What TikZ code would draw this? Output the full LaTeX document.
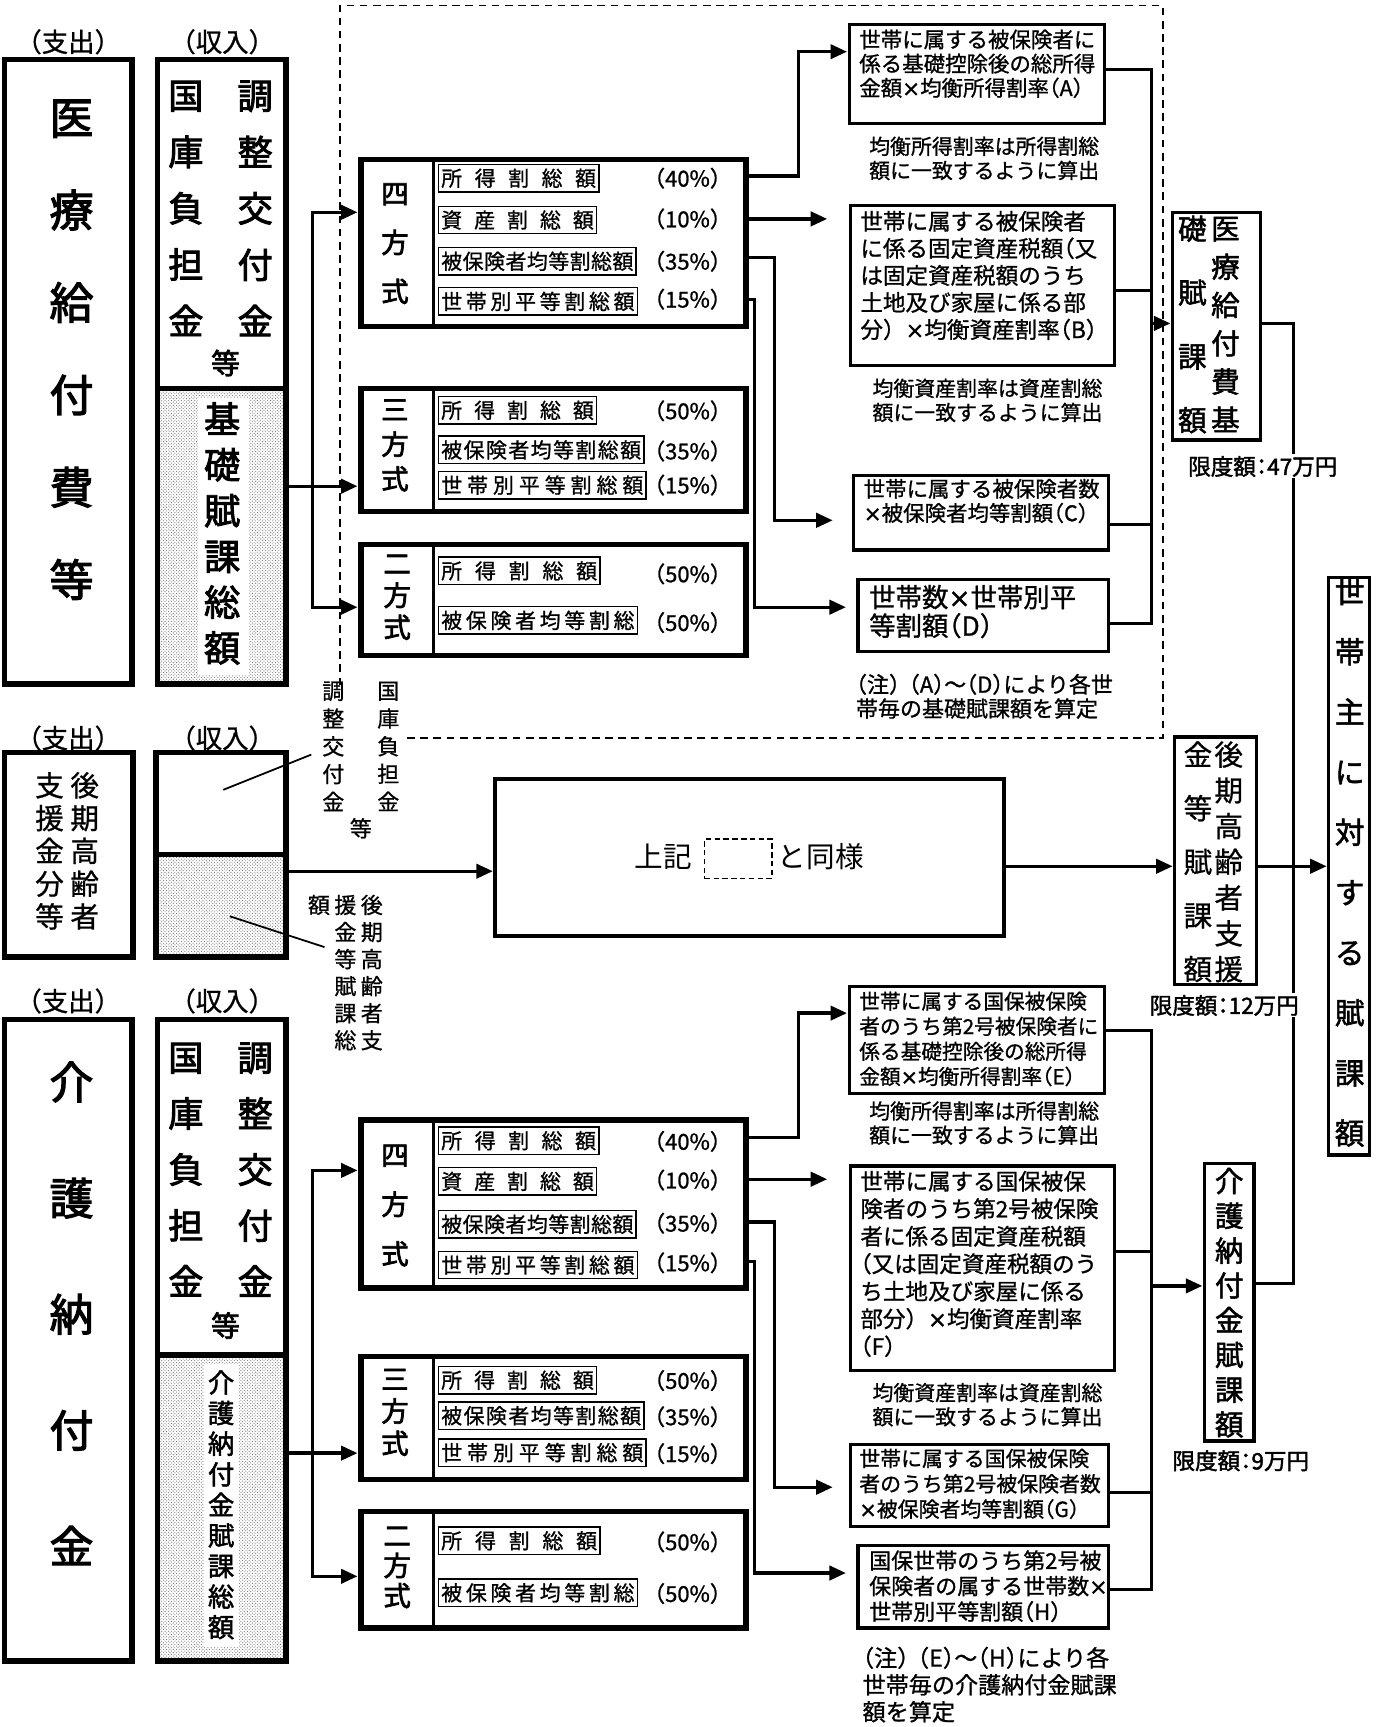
\documentclass[tikz,border=0pt]{standalone}
\usepackage{fontspec}
\setmainfont{Noto Sans CJK JP}[RawFeature=+halt,FakeBold=1]
\newfontfamily\plainjp{Noto Sans CJK JP}[FakeBold=0.8]
\newfontfamily\thinjp{Noto Sans CJK JP}
\newfontfamily\bjp{Noto Sans CJK JP}[FakeBold=2.5]
\newfontfamily\mjp{Noto Sans CJK JP}[FakeBold=1.8,RawFeature=+halt]
\newfontfamily\latf{DejaVu Sans}[FakeBold=1]
\newcommand\tms{{\latf ×}}
\newcommand\fwcp{{\plainjp ）}}
\usetikzlibrary{arrows.meta,patterns}
\newcommand\setfs[2]{\fontsize{#1pt}{#2pt}\selectfont}
\newcommand\bx[6]{\node[#1, minimum width={#5-#3}, minimum height={#6-#4}] (#2) at (#3,#4) {};}
\newcommand\itm[4]{\node[itembox] (#1) at (398,#2) {\hbox to #3pt{#4}};}
\newcommand\pc[3]{\node[pct] (#1) at (625,#2) {#3};}
\tikzset{
 heavybox/.style={draw, line width=5pt, inner sep=0pt, outer sep=0pt, anchor=north west},
 midbox/.style={draw, line width=3pt, inner sep=0pt, outer sep=0pt, anchor=north west},
 whitebox/.style={fill=white, inner sep=0pt, outer sep=0pt, anchor=north west},
 itembox/.style={draw, line width=1.3pt, inner sep=2.5pt, minimum height=25pt, anchor=west, font=\setfs{19}{19}},
 divl/.style={line width=3pt},
 conn/.style={line width=3pt},
 arr/.style={line width=3pt, -{Triangle[length=15pt,width=13pt]}},
 leader/.style={line width=1.6pt},
 pct/.style={font=\setfs{20}{20}, inner sep=0pt},
 vcol/.style={align=center, inner sep=0pt},
 txt/.style={align=left, inner sep=0pt, anchor=west},
 hdr/.style={font=\plainjp\setfs{24}{24}, inner sep=0pt},
 dotfill/.style={pattern=crosshatch dots, pattern color=black!60},
 limit/.style={font=\mjp\setfs{20.5}{20.5}, fill=white, inner sep=1.5pt},
}
\begin{document}
\begin{tikzpicture}[x=1pt,y=-1pt]
\useasboundingbox (0,0) rectangle (1258,1570);

%================ TOP =================
\node[hdr] (tSpend) at (62,38) {（支出）};
\node[hdr] (tIncome) at (202,38) {（収入）};
\bx{heavybox}{tL}{4}{54}{120}{622}
\node[vcol,font=\bjp\setfs{40}{84}] (tLt) at (65,318) {医\\療\\給\\付\\費\\等};
\bx{heavybox,dotfill}{tIlo}{143}{353}{260}{622}
\bx{heavybox}{tIup}{143}{54}{260}{353}
\bx{whitebox}{tIst}{180}{362}{226}{614}
\node[vcol,font=\bjp\setfs{32}{51.25}] (tIc1) at (169,189.5) {国\\庫\\負\\担\\金};
\node[vcol,font=\bjp\setfs{32}{51.25}] (tIc2) at (232,189.5) {調\\整\\交\\付\\金};
\node[vcol,font=\bjp\setfs{26}{26}] (tIe) at (205,330) {等};
\node[vcol,font=\bjp\setfs{33}{41.6}] (tIk) at (202,485) {基\\礎\\賦\\課\\総\\額};

% dashed frame
\draw[line width=1.6pt, dash pattern=on 7pt off 5pt] (370,671) -- (1057,671) -- (1057,5) -- (309,5) -- (309,625);

% four-way
\bx{heavybox}{tM4}{328}{145}{678}{297}
\draw[divl] ([xshift=66pt]tM4.north west) -- ([xshift=66pt]tM4.south west);
\node[vcol,font=\bjp\setfs{25}{44.5}] (tM4l) at (359,221.5) {四\\方\\式};
\itm{tM4a}{162}{140.7}{所\hfil 得\hfil 割\hfil 総\hfil 額}
\itm{tM4b}{200}{138.7}{資\hfil 産\hfil 割\hfil 総\hfil 額}
\itm{tM4c}{237.5}{174.7}{被\hfil 保\hfil 険\hfil 者\hfil 均\hfil 等\hfil 割\hfil 総\hfil 額}
\itm{tM4d}{274}{175.7}{世\hfil 帯\hfil 別\hfil 平\hfil 等\hfil 割\hfil 総\hfil 額}
\pc{tM4ap}{162}{（40\%）}
\pc{tM4bp}{199}{（10\%）}
\pc{tM4cp}{237.5}{（35\%）}
\pc{tM4dp}{272}{（15\%）}
% three-way
\bx{heavybox}{tM3}{328}{353}{678}{465}
\draw[divl] ([xshift=66pt]tM3.north west) -- ([xshift=66pt]tM3.south west);
\node[vcol,font=\bjp\setfs{25}{31.5}] (tM3l) at (359,405) {三\\方\\式};
\itm{tM3a}{373}{138.7}{所\hfil 得\hfil 割\hfil 総\hfil 額}
\itm{tM3b}{409}{181.7}{被\hfil 保\hfil 険\hfil 者\hfil 均\hfil 等\hfil 割\hfil 総\hfil 額}
\itm{tM3c}{441}{183.7}{世\hfil 帯\hfil 別\hfil 平\hfil 等\hfil 割\hfil 総\hfil 額}
\pc{tM3ap}{373.5}{（50\%）}
\pc{tM3bp}{410}{（35\%）}
\pc{tM3cp}{441}{（15\%）}
% two-way
\bx{heavybox}{tM2}{328}{495}{678}{596}
\draw[divl] ([xshift=66pt]tM2.north west) -- ([xshift=66pt]tM2.south west);
\node[vcol,font=\bjp\setfs{25}{29}] (tM2l) at (361,543) {二\\方\\式};
\itm{tM2a}{519}{141.7}{所\hfil 得\hfil 割\hfil 総\hfil 額}
\itm{tM2b}{564}{175.7}{被\hfil 保\hfil 険\hfil 者\hfil 均\hfil 等\hfil 割\hfil 総}
\pc{tM2ap}{521.7}{（50\%）}
\pc{tM2bp}{566}{（50\%）}

% income -> methods
\coordinate (tIo) at (260,442);
\coordinate (tJ) at (284,442);
\coordinate (tM4i) at (325,193);
\coordinate (tM3i) at (325,442);
\coordinate (tM2i) at (325,552);
\draw[arr] (tIo) -- (tM3i);
\draw[arr] (tJ) |- (tM4i);
\draw[arr] (tJ) |- (tM2i);

% method -> formula boxes
\coordinate (t40o) at (678,160);
\coordinate (t10o) at (678,199);
\coordinate (t35o) at (678,234);
\coordinate (t15o) at (678,272);
\coordinate (tAi) at (770,47);
\coordinate (tBi) at (752,199);
\coordinate (tCi) at (757,473);
\coordinate (tDi) at (769,552);
\draw[arr] (t40o) -| (726,47) -- (tAi);
\draw[arr] (t10o) -- (tBi);
\draw[arr] (t35o) -| (704,473) -- (tCi);
\draw[arr] (t15o) -| (686,552) -- (tDi);

% formula boxes top
\bx{midbox}{tA}{772}{22}{1004}{112}
\node[txt,font=\setfs{19.5}{22}] (tAt) at (781,58) {世帯に属する被保険者に\\係る基礎控除後の総所得\\金額\tms 均衡所得割率（A）};
\node[txt,font=\setfs{19}{22}] (tAn) at (790,144) {均衡所得割率は所得割総\\額に一致するように算出};
\bx{midbox}{tB}{773}{187}{1013}{332}
\node[txt,font=\setfs{20.5}{24.6}] (tBt) at (782,250.5) {世帯に属する被保険者\\に係る固定資産税額（又\\は固定資産税額のうち\\土地及び家屋に係る部\\分\fwcp\tms 均衡資産割率（B）};
\node[txt,font=\setfs{19}{22}] (tBn) at (793,364) {均衡資産割率は資産割総\\額に一致するように算出};
\bx{midbox}{tC}{776}{432}{1008}{500}
\node[txt,font=\setfs{19.5}{22}] (tCt) at (785,455.5) {世帯に属する被保険者数\\\tms 被保険者均等割額（C）};
\bx{midbox}{tD}{780}{527}{1008}{592}
\node[txt,font=\setfs{24}{26}] (tDt) at (790,556) {世帯数\tms 世帯別平\\等割額（D）};
\node[txt,font=\setfs{20}{22}] (tNote) at (778,633) {（注）\hspace{8pt}（A）～（D）により各世\\帯毎の基礎賦課額を算定};

% collector top
\coordinate (tAo) at (1004,63);
\coordinate (tBo) at (1013,264);
\coordinate (tCo) at (1008,477);
\coordinate (tDo) at (1008,567);
\coordinate (tKi) at (1064,294);
\coordinate (tKo) at (1146,294);
\draw[conn] (tAo) -- (1047,63) -- (1047,567) -- (tDo);
\draw[conn] (tBo) -- (1047,264);
\draw[conn] (tCo) -- (1047,477);
\draw[arr] (1047,294) -- (tKi);

\bx{midbox}{tK}{1066}{193}{1146}{400}
\node[vcol,font=\mjp\setfs{26}{34.8}] (tKr) at (1114,295) {医\\療\\給\\付\\費\\基};
\node[vcol,font=\mjp\setfs{26}{58}] (tKl) at (1084,295) {礎\\賦\\課\\額};

% household total box
\bx{midbox}{S}{1208}{525}{1245}{1050}
\node[vcol,font=\mjp\setfs{27}{54.7}] (St) at (1227,784) {世\\帯\\主\\に\\対\\す\\る\\賦\\課\\額};

% trunk
\coordinate (bKo) at (1140,1167);
\draw[conn] (tKo) -- (1176,294) -- (1176,1167) -- (bKo);

%================ MIDDLE =================
\node[hdr] (mSpend) at (62,671) {（支出）};
\node[hdr] (mIncome) at (202,671) {（収入）};
\bx{heavybox}{mL}{4}{684}{121}{870}
\node[vcol,font=\plainjp\setfs{26}{29.8}] (mLr) at (77,773.5) {後\\期\\高\\齢\\者};
\node[vcol,font=\plainjp\setfs{26}{29.8}] (mLl) at (45,773.5) {支\\援\\金\\分\\等};
\bx{heavybox,dotfill}{mIlo}{142}{777}{260}{870}
\bx{heavybox}{mIup}{142}{684}{260}{777}

\node[vcol,font=\plainjp\setfs{20}{25.2}] (mA1) at (303,678.5) {調\\整\\交\\付\\金};
\node[vcol,font=\plainjp\setfs{20}{25.2}] (mA2) at (353,678.5) {国\\庫\\負\\担\\金};
\node[vcol,font=\plainjp\setfs{20}{20}] (mA3) at (328,753) {等};
\node[vcol,font=\plainjp\setfs{20}{24.6}] (mB1) at (338,884.2) {後\\期\\高\\齢\\者\\支};
\node[vcol,font=\plainjp\setfs{20}{24.6}] (mB2) at (314,884.2) {援\\金\\等\\賦\\課\\総};
\node[vcol,font=\plainjp\setfs{20}{20}] (mB3) at (290,822.7) {額};
\coordinate (mL1a) at (203,718);
\coordinate (mL1b) at (283,686);
\coordinate (mL2a) at (209,833);
\coordinate (mL2b) at (295,861);
\draw[leader] (mL1a) -- (mL1b);
\draw[leader] (mL2a) -- (mL2b);

\bx{midbox,line width=3.5pt}{mBig}{450}{708}{913}{851}
\node[font=\thinjp\setfs{26}{26},anchor=east,inner sep=0pt] (mT1) at (629,779) {上記};
\bx{draw,line width=1.3pt,dash pattern=on 5pt off 3pt,inner sep=0pt,anchor=north west}{mRef}{640}{762}{701}{798}
\node[font=\thinjp\setfs{26}{26},anchor=west,inner sep=0pt] (mT2) at (707,779) {と同様};

\bx{midbox}{mK}{1068}{670}{1142}{895}
\node[vcol,font=\plainjp\setfs{26}{32.5}] (mKr) at (1117,783.5) {後\\期\\高\\齢\\者\\支\\援};
\node[vcol,font=\plainjp\setfs{26}{48.75}] (mKl) at (1089,783.5) {金\\等\\賦\\課\\額};

\coordinate (mIo) at (260,792);
\coordinate (mBigi) at (448,792);
\coordinate (mBigo) at (913,787.5);
\coordinate (mKi) at (1066,787.5);
\coordinate (mKo) at (1142,787.5);
\coordinate (Si) at (1206,787.5);
\draw[arr] (mIo) -- (mBigi);
\draw[arr] (mBigo) -- (mKi);
\draw[arr] (mKo) -- (Si);

%================ BOTTOM =================
\node[hdr] (bSpend) at (62,910) {（支出）};
\node[hdr] (bIncome) at (202,910) {（収入）};
\bx{heavybox}{bL}{4}{927}{120}{1510}
\node[vcol,font=\bjp\setfs{40}{105.5}] (bLt) at (65,1194) {介\\護\\納\\付\\金};
\bx{heavybox,dotfill}{bIlo}{143}{1232}{260}{1510}
\bx{heavybox}{bIup}{143}{927}{260}{1232}
\bx{whitebox}{bIst}{185}{1240}{217}{1497}
\node[vcol,font=\bjp\setfs{32}{50.9}] (bIc1) at (169,1063.3) {国\\庫\\負\\担\\金};
\node[vcol,font=\bjp\setfs{32}{50.9}] (bIc2) at (232,1063.3) {調\\整\\交\\付\\金};
\node[vcol,font=\bjp\setfs{26}{26}] (bIe) at (205,1205) {等};
\node[vcol,font=\mjp\setfs{24}{27.8}] (bIk) at (201,1368) {介\\護\\納\\付\\金\\賦\\課\\総\\額};

% four-way
\bx{heavybox}{bM4}{328}{1018}{678}{1171}
\draw[divl] ([xshift=66pt]bM4.north west) -- ([xshift=66pt]bM4.south west);
\node[vcol,font=\bjp\setfs{25}{45}] (bM4l) at (359,1096) {四\\方\\式};
\itm{bM4a}{1037}{140.7}{所\hfil 得\hfil 割\hfil 総\hfil 額}
\itm{bM4b}{1074}{138.7}{資\hfil 産\hfil 割\hfil 総\hfil 額}
\itm{bM4c}{1113}{174.7}{被\hfil 保\hfil 険\hfil 者\hfil 均\hfil 等\hfil 割\hfil 総\hfil 額}
\itm{bM4d}{1150}{175.7}{世\hfil 帯\hfil 別\hfil 平\hfil 等\hfil 割\hfil 総\hfil 額}
\pc{bM4ap}{1037.6}{（40\%）}
\pc{bM4bp}{1072.8}{（10\%）}
\pc{bM4cp}{1112}{（35\%）}
\pc{bM4dp}{1148}{（15\%）}
% three-way
\bx{heavybox}{bM3}{328}{1233}{678}{1345}
\draw[divl] ([xshift=66pt]bM3.north west) -- ([xshift=66pt]bM3.south west);
\node[vcol,font=\bjp\setfs{25}{29.3}] (bM3l) at (359,1284) {三\\方\\式};
\itm{bM3a}{1254.7}{138.7}{所\hfil 得\hfil 割\hfil 総\hfil 額}
\itm{bM3b}{1287}{181.7}{被\hfil 保\hfil 険\hfil 者\hfil 均\hfil 等\hfil 割\hfil 総\hfil 額}
\itm{bM3c}{1320.5}{183.7}{世\hfil 帯\hfil 別\hfil 平\hfil 等\hfil 割\hfil 総\hfil 額}
\pc{bM3ap}{1255}{（50\%）}
\pc{bM3bp}{1288}{（35\%）}
\pc{bM3cp}{1321.5}{（15\%）}
% two-way
\bx{heavybox}{bM2}{328}{1374}{678}{1480}
\draw[divl] ([xshift=66pt]bM2.north west) -- ([xshift=66pt]bM2.south west);
\node[vcol,font=\bjp\setfs{25}{27.3}] (bM2l) at (361,1425) {二\\方\\式};
\itm{bM2a}{1400.7}{141.7}{所\hfil 得\hfil 割\hfil 総\hfil 額}
\itm{bM2b}{1448}{175.7}{被\hfil 保\hfil 険\hfil 者\hfil 均\hfil 等\hfil 割\hfil 総}
\pc{bM2ap}{1401.7}{（50\%）}
\pc{bM2bp}{1448.7}{（50\%）}

% income -> methods
\coordinate (bIo) at (260,1321);
\coordinate (bJ) at (284,1321);
\coordinate (bM4i) at (325,1064);
\coordinate (bM3i) at (325,1321);
\coordinate (bM2i) at (325,1433);
\draw[arr] (bIo) -- (bM3i);
\draw[arr] (bJ) |- (bM4i);
\draw[arr] (bJ) |- (bM2i);

% method -> formula boxes
\coordinate (b40o) at (678,1034);
\coordinate (b10o) at (678,1072);
\coordinate (b35o) at (678,1111);
\coordinate (b15o) at (678,1147);
\coordinate (bEi) at (770,921);
\coordinate (bFi) at (752,1072);
\coordinate (bGi) at (757,1352);
\coordinate (bHi) at (769,1430);
\draw[arr] (b40o) -| (726,921) -- (bEi);
\draw[arr] (b10o) -- (bFi);
\draw[arr] (b35o) -| (704,1352) -- (bGi);
\draw[arr] (b15o) -| (686,1430) -- (bHi);

% formula boxes bottom
\bx{midbox}{bE}{772}{897}{1004}{994}
\node[txt,font=\setfs{18.8}{22.8}] (bEt) at (781,944.5) {世帯に属する国保被保険\\者のうち第2号被保険者に\\係る基礎控除後の総所得\\金額\tms 均衡所得割率（E）};
\node[txt,font=\setfs{19}{22}] (bEn) at (790,1021) {均衡所得割率は所得割総\\額に一致するように算出};
\bx{midbox}{bF}{773}{1060}{1013}{1246}
\node[txt,font=\setfs{20.5}{25}] (bFt) at (782,1149) {世帯に属する国保被保\\険者のうち第2号被保険\\者に係る固定資産税額\\（又は固定資産税額のう\\ち土地及び家屋に係る\\部分\fwcp\tms 均衡資産割率\\（F）};
\node[txt,font=\setfs{19}{22}] (bFn) at (793,1277) {均衡資産割率は資産割総\\額に一致するように算出};
\bx{midbox}{bG}{773}{1313}{1008}{1388}
\node[txt,font=\setfs{19}{23}] (bGt) at (781,1349) {世帯に属する国保被保険\\者のうち第2号被保険者数\\\tms 被保険者均等割額（G）};
\bx{midbox}{bH}{780}{1405}{1008}{1480}
\node[txt,font=\setfs{20}{23.2}] (bHt) at (790,1442) {国保世帯のうち第2号被\\保険者の属する世帯数\tms\\世帯別平等割額（H）};
\node[txt,font=\setfs{21}{24.5}] (bNote) at (784,1531.5) {（注）\hspace{8pt}（E）～（H）により各\\世帯毎の介護納付金賦課\\額を算定};

% collector bottom
\coordinate (bEo) at (1004,937);
\coordinate (bFo) at (1013,1138);
\coordinate (bGo) at (1008,1357);
\coordinate (bHo) at (1008,1445);
\coordinate (bKi) at (1093,1169);
\draw[conn] (bEo) -- (1047,937) -- (1047,1445) -- (bHo);
\draw[conn] (bFo) -- (1047,1138);
\draw[conn] (bGo) -- (1047,1357);
\draw[arr] (1047,1169) -- (bKi);

\bx{midbox}{bK}{1095}{1058}{1140}{1310}
\node[vcol,font=\mjp\setfs{26}{31.6}] (bKt) at (1117.5,1184.3) {介\\護\\納\\付\\金\\賦\\課\\額};

% limits
\node[limit] (tLim) at (1148,424) {限度額：47万円};
\node[limit] (mLim) at (1113,914) {限度額：12万円};
\node[limit] (bLim) at (1128,1328) {限度額：9万円};
\end{tikzpicture}
\end{document}
